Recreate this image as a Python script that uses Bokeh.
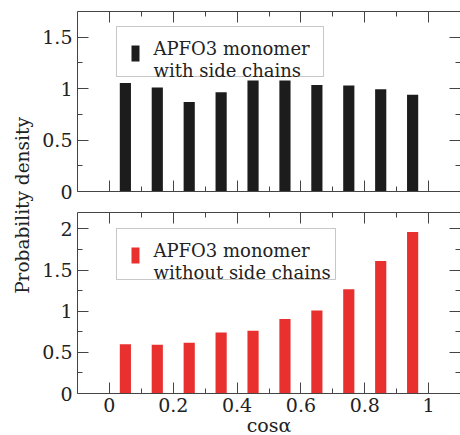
from bokeh.plotting import figure
from bokeh.models import (ColumnDataSource, FixedTicker, LinearAxis, Range1d,
                          BoxAnnotation, Label)
from bokeh.layouts import row, column
from bokeh.embed import file_html
from bokeh.resources import INLINE

# ---------------- data ----------------
bin_centers = [0.05, 0.15, 0.25, 0.35, 0.45, 0.55, 0.65, 0.75, 0.85, 0.95]
with_side_chains = [1.055, 1.01, 0.87, 0.965, 1.08, 1.078, 1.035, 1.03, 0.995, 0.94]
without_side_chains = [0.598, 0.593, 0.618, 0.74, 0.764, 0.906, 1.008, 1.268, 1.61, 1.963]

x_ticks = [0, 0.2, 0.4, 0.6, 0.8, 1.0]
x_tick_labels = ["0", "0.2", "0.4", "0.6", "0.8", "1"]
x_minor_ticks = [0.1, 0.3, 0.5, 0.7, 0.9]

top_y_ticks = [0, 0.5, 1.0, 1.5]
top_y_tick_labels = ["0", "0.5", "1", "1.5"]
top_y_minor = [0.25, 0.75, 1.25]

bottom_y_ticks = [0, 0.5, 1.0, 1.5, 2.0]
bottom_y_tick_labels = ["0", "0.5", "1", "1.5", "2"]
bottom_y_minor = [0.25, 0.75, 1.25, 1.75]

legend_top = ["APFO3 monomer", "with side chains"]
legend_bottom = ["APFO3 monomer", "without side chains"]
x_label = "cosα"
y_label = "Probability density"

# ---------------- style ----------------
FONT = "DejaVu Serif"
FS = "19px"
FS_TEXT = "18px"
LINE = "#444444"
TEXT = "#222222"
BLACK = "#1c1c1c"
RED = "#e8302f"
BAR_W = 0.035


def add_axis(p, side, ticks, minor, labels=None, axis_label=None):
    ax = LinearAxis(ticker=FixedTicker(ticks=ticks, minor_ticks=minor))
    ax.major_tick_in = 11
    ax.major_tick_out = 0
    ax.minor_tick_in = 5
    ax.minor_tick_out = 0
    ax.axis_line_color = LINE
    ax.major_tick_line_color = LINE
    ax.minor_tick_line_color = LINE
    if labels is not None:
        ax.major_label_overrides = {t: l for t, l in zip(ticks, labels)}
        ax.major_label_text_font = FONT
        ax.major_label_text_font_size = FS
        ax.major_label_text_color = TEXT
        ax.major_label_standoff = 5 if side == "left" else 4
    else:
        # mirrored axis: ticks only
        ax.major_label_text_color = None
        ax.major_label_text_font_size = "1px"
        ax.major_label_standoff = 0
    if axis_label is not None:
        ax.axis_label = axis_label
        ax.axis_label_text_font = FONT
        ax.axis_label_text_font_size = FS
        ax.axis_label_text_font_style = "normal"
        ax.axis_label_text_color = TEXT
        ax.axis_label_standoff = -1
    p.add_layout(ax, side)


def make_panel(values, color, y_max, y_ticks, y_labels, y_minor, leg_lines,
               frame_h, b_top, b_bottom, show_x, box):
    p = figure(frame_width=383, frame_height=frame_h,
               min_border_left=39, min_border_right=0,
               min_border_top=b_top, min_border_bottom=b_bottom,
               x_range=Range1d(-0.1, 1.1), y_range=Range1d(0, y_max),
               x_axis_location=None, y_axis_location=None,
               output_backend="svg", toolbar_location=None)
    p.xgrid.visible = False
    p.ygrid.visible = False
    p.outline_line_color = None
    p.background_fill_color = "white"
    p.border_fill_color = "white"

    src = ColumnDataSource(dict(x=bin_centers, top=values))
    p.vbar(x="x", top="top", width=BAR_W, bottom=0, source=src,
           fill_color=color, line_color=None)

    add_axis(p, "left", y_ticks, y_minor, labels=y_labels)
    add_axis(p, "right", y_ticks, y_minor)
    add_axis(p, "above", x_ticks, x_minor_ticks)
    if show_x:
        add_axis(p, "below", x_ticks, x_minor_ticks, labels=x_tick_labels,
                 axis_label=x_label)
    else:
        add_axis(p, "below", x_ticks, x_minor_ticks)

    # legend: frame-relative screen units (y upward from frame bottom)
    bl, br, bb, bt = box
    p.add_layout(BoxAnnotation(left=bl, right=br, bottom=bb, top=bt,
                               left_units="screen", right_units="screen",
                               bottom_units="screen", top_units="screen",
                               fill_color="white", fill_alpha=1.0,
                               line_color=LINE, line_width=1))
    p.add_layout(BoxAnnotation(left=54, right=62, bottom=130, top=146,
                               left_units="screen", right_units="screen",
                               bottom_units="screen", top_units="screen",
                               fill_color=color, fill_alpha=1.0,
                               line_color=None))
    for txt, yy in zip(leg_lines, [143, 121]):
        p.add_layout(Label(x=76, y=yy, x_units="screen", y_units="screen",
                           text=txt, text_font=FONT, text_font_size=FS_TEXT,
                           text_color=TEXT, text_baseline="alphabetic",
                           text_align="left"))
    return p


top = make_panel(with_side_chains, BLACK, 1.75, top_y_ticks, top_y_tick_labels,
                 top_y_minor, legend_top, 180, 11, 11, False, (39, 246, 115, 165))
bottom = make_panel(without_side_chains, RED, 2.2, bottom_y_ticks,
                    bottom_y_tick_labels, bottom_y_minor, legend_bottom,
                    181, 10, 41, True, (39, 258, 114, 165))

lab = figure(width=38, height=435, min_border=0, x_axis_location=None,
             y_axis_location=None, output_backend="svg", toolbar_location=None)
lab.xgrid.visible = False
lab.ygrid.visible = False
lab.outline_line_color = None
lab.add_layout(Label(x=22, y=230, x_units="screen", y_units="screen",
                     text=y_label, angle=90, angle_units="deg",
                     text_align="center", text_baseline="middle",
                     text_font=FONT, text_font_size="18.5px", text_color=TEXT))

layout = row(lab, column(top, bottom, spacing=0), spacing=0)

open("out.html", "w").write(file_html(layout, INLINE))
